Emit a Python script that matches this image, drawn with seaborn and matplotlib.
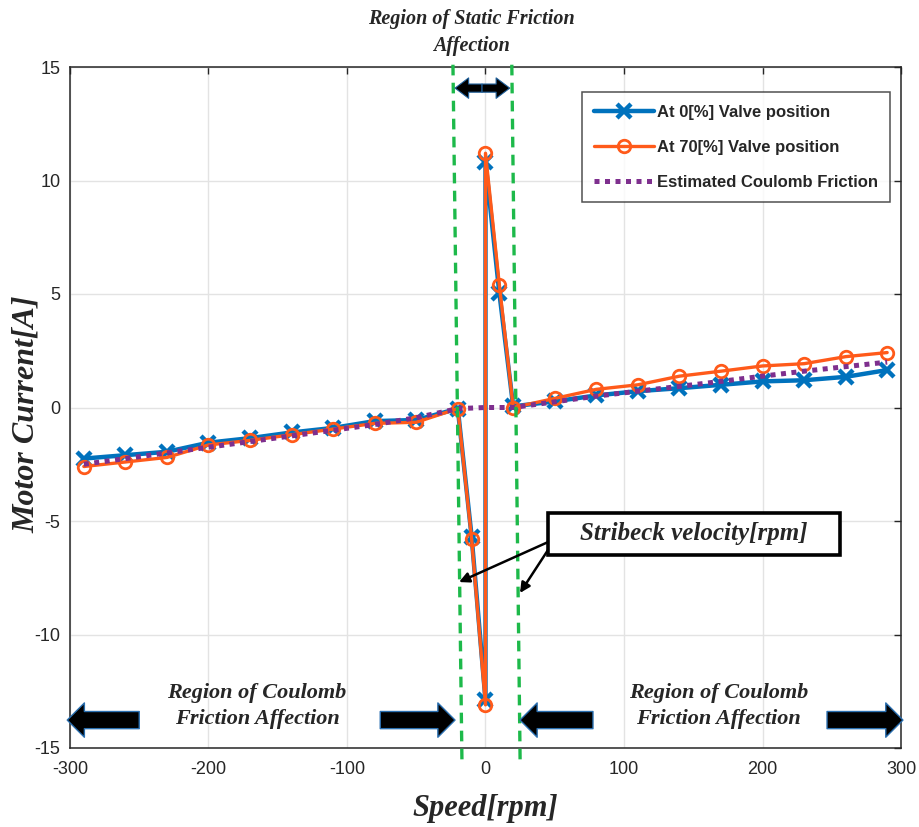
import matplotlib
matplotlib.use("Agg")
import matplotlib.pyplot as plt
import seaborn as sns
import pandas as pd
from matplotlib.patches import Rectangle

# ---------------- data ----------------
speed = [-290, -260, -230, -200, -170, -140, -110, -80, -50, -20, -10, 0, 0, 10, 20,
         50, 80, 110, 140, 170, 200, 230, 260, 290]
current_valve0 = [-2.25, -2.1, -1.95, -1.55, -1.35, -1.1, -0.9, -0.6, -0.55, -0.05, -5.7, -12.9, 10.8, 5.05, 0.05,
                  0.27, 0.53, 0.72, 0.85, 1.0, 1.15, 1.2, 1.35, 1.65]
current_valve70 = [-2.6, -2.4, -2.2, -1.65, -1.45, -1.2, -0.95, -0.7, -0.65, -0.05, -5.8, -13.1, 11.2, 5.4, 0.0,
                   0.4, 0.8, 1.0, 1.38, 1.6, 1.83, 1.93, 2.24, 2.42]
speed_coulomb = [-290, -260, -230, -200, -170, -140, -110, -80, -50, -20, 0, 20,
                 50, 80, 110, 140, 170, 200, 230, 260, 290]
current_coulomb = [-2.5, -2.25, -2.0, -1.75, -1.5, -1.25, -1.0, -0.75, -0.45, -0.05, 0.0, 0.0,
                   0.25, 0.5, 0.72, 0.93, 1.15, 1.38, 1.6, 1.8, 2.0]
labels = ["At 0[%] Valve position", "At 70[%] Valve position", "Estimated Coulomb Friction"]
x_ticks = [-300, -200, -100, 0, 100, 200, 300]
y_ticks = [-15, -10, -5, 0, 5, 10, 15]

df0 = pd.DataFrame({"speed": speed, "current": current_valve0})
df70 = pd.DataFrame({"speed": speed, "current": current_valve70})
dfc = pd.DataFrame({"speed": speed_coulomb, "current": current_coulomb})

sns.set_style("white")
plt.rcParams["font.family"] = ["Liberation Sans", "DejaVu Sans"]

BLUE = "#0072BD"
ORANGE = "#FF5A1A"
PURPLE = "#7E2F8E"
GREEN = "#1DB94A"
serif_bi = dict(family="Liberation Serif", style="italic", weight="bold")

fig = plt.figure(figsize=(9.2, 8.27), dpi=100)
ax = fig.add_axes([70 / 920, 1 - 748 / 827, 831 / 920, 681 / 827])

sns.lineplot(data=df0, x="speed", y="current", ax=ax, sort=False, estimator=None,
             color=BLUE, lw=3.2, marker="x", markersize=10, markeredgewidth=3.2,
             markeredgecolor=BLUE, label=labels[0], zorder=3)
sns.lineplot(data=df70, x="speed", y="current", ax=ax, sort=False, estimator=None,
             color=ORANGE, lw=2.4, marker="o", markersize=9, markerfacecolor="none",
             markeredgewidth=2, markeredgecolor=ORANGE, label=labels[1], zorder=4)
sns.lineplot(data=dfc, x="speed", y="current", ax=ax, sort=False, estimator=None,
             color=PURPLE, lw=3.6, label=labels[2], zorder=5, dashes=False)
ax.lines[-1].set_dashes((1, 1.1))
ax.lines[-1].set_dash_capstyle("butt")

ax.set_xlim(-300, 300)
ax.set_ylim(-15, 15)
ax.set_xticks(x_ticks)
ax.set_yticks(y_ticks)
ax.set_xticklabels([str(v) for v in x_ticks], fontsize=13, color="#262626")
ax.set_yticklabels([str(v) for v in y_ticks], fontsize=13, color="#262626")
ax.grid(True, color="#E3E3E3", lw=1)
ax.set_axisbelow(True)
ax.tick_params(direction="in", length=5, width=1, top=True, right=True, color="#262626")
ax.tick_params(axis="x", pad=9)
ax.tick_params(axis="y", pad=7)
for s in ax.spines.values():
    s.set_color("#262626")
    s.set_linewidth(1.1)

ax.set_xlabel("Speed[rpm]", fontsize=22, labelpad=12, **serif_bi)
ax.set_ylabel("")
fig.text(26 / 920, 1 - 414 / 827, "Motor Current[A]", rotation=90, ha="center", va="center",
         fontsize=23, **serif_bi)

# legend
leg = ax.legend(loc="upper right", bbox_to_anchor=(0.987, 0.963), prop=dict(weight="bold", size=12),
                frameon=True, fancybox=False, edgecolor="#262626", labelspacing=1.2,
                handlelength=3.6, handletextpad=0.15, borderpad=0.75, borderaxespad=0)
leg.get_frame().set_linewidth(1.1)

# green dashed boundaries
for xs in ([-23.5, -17], [19, 25]):
    ax.plot(xs, [15.1, -15.6], color=GREEN, lw=2.4, dashes=(3.2, 2.2), clip_on=False, zorder=6)

# static friction region text and double arrow
ax.text(-10, 16.52, "Region of Static Friction\nAffection", ha="center", va="center",
        fontsize=14.5, linespacing=1.45, **serif_bi)
for a, b in ((-2.5, -22), (-2.5, 17.5)):
    ax.annotate("", xy=(b, 14.07), xytext=(a, 14.07),
                arrowprops=dict(arrowstyle="simple,head_length=0.7,head_width=1.05,tail_width=0.42",
                                fc="black", ec="#1f5f9a", lw=0.8, shrinkA=0, shrinkB=0,
                                mutation_scale=14), zorder=7)

# Coulomb region arrows
arrow_kw = dict(arrowstyle="simple,head_length=0.65,head_width=1.3,tail_width=0.65",
                fc="black", ec="#2a6fb0", lw=1.0, shrinkA=0, shrinkB=0, mutation_scale=19)
for tail, tip in ((-250, -302), (-76, -22), (77.6, 24.9), (246.6, 301.4)):
    ax.annotate("", xy=(tip, -13.77), xytext=(tail, -13.77), arrowprops=arrow_kw,
                annotation_clip=False, zorder=7)
for cx in (-165, 168):
    ax.text(cx, -13.15, "Region of Coulomb\nFriction Affection", ha="center", va="center",
            fontsize=16, linespacing=1.38, family="Liberation Serif", style="italic", weight="bold")

# Stribeck velocity box and arrows
ax.add_patch(Rectangle((45.1, -6.5), 210.9, 1.85, fc="white", ec="black", lw=2.6, zorder=8))
ax.text(150.5, -5.57, "Stribeck velocity[rpm]", ha="center", va="center", fontsize=18,
        zorder=9, **serif_bi)
for tip in ((-19.1, -7.69), (24.9, -8.17)):
    ax.annotate("", xy=tip, xytext=(45.1, -5.93 if tip[0] < 0 else -6.28),
                arrowprops=dict(arrowstyle="-|>,head_length=0.6,head_width=0.3", color="black",
                                lw=1.8, shrinkA=0, shrinkB=0), zorder=8)

fig.savefig("out.png", dpi=100)
